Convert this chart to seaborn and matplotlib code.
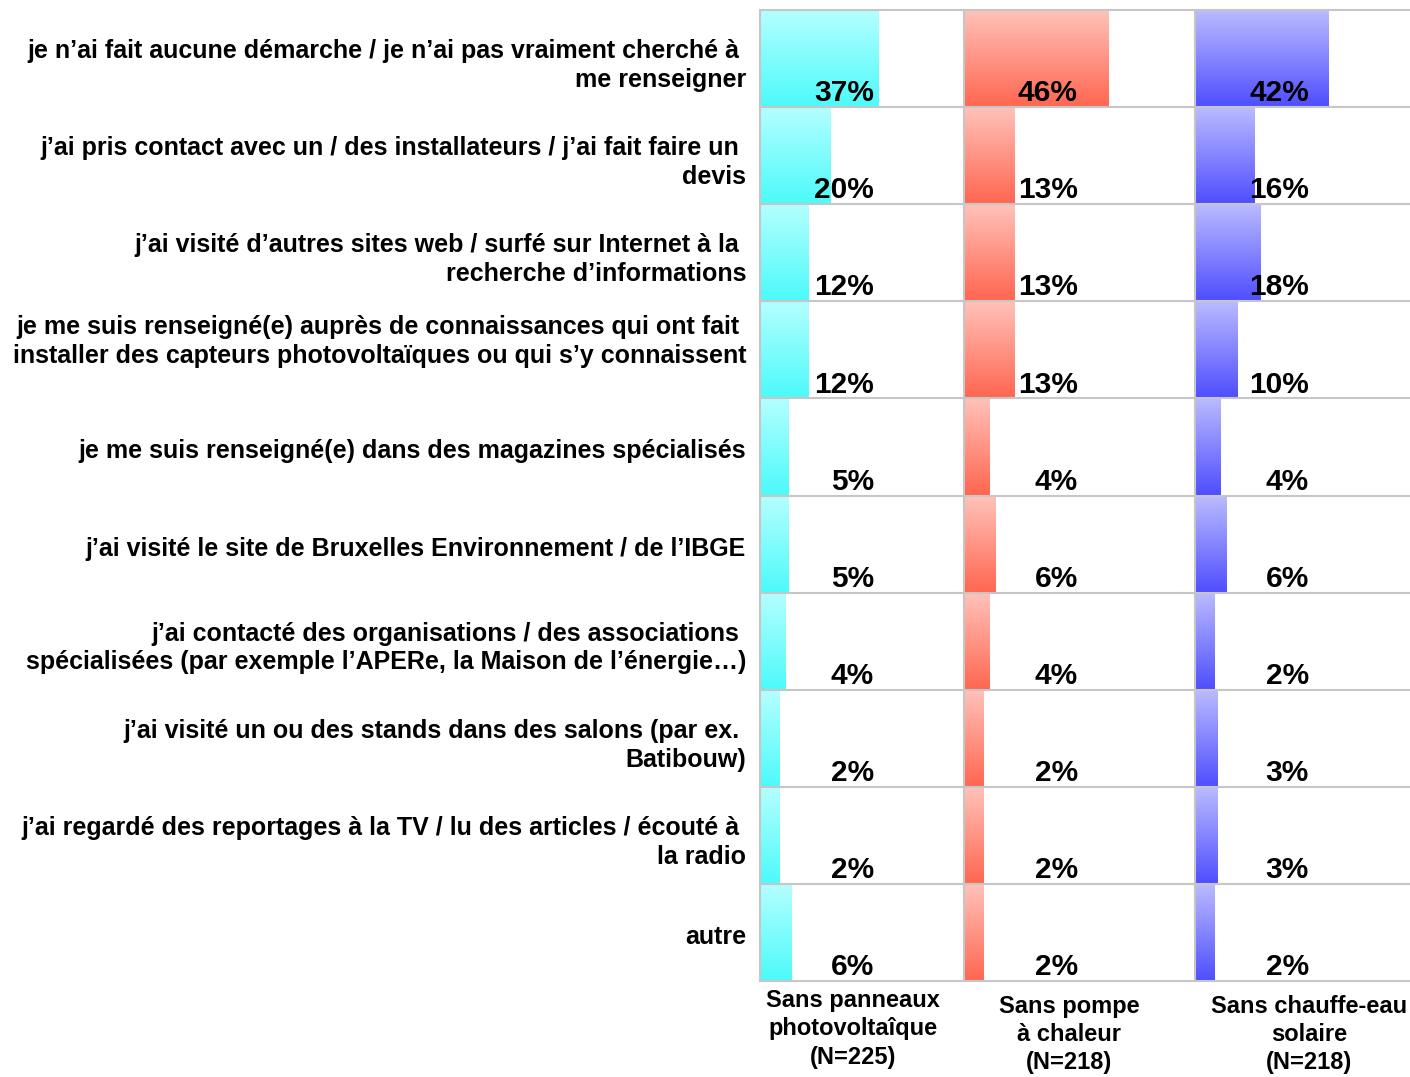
#Importing libraries
import numpy as np
import pandas as pd
import matplotlib
matplotlib.use("Agg")
import matplotlib.pyplot as plt
import matplotlib.transforms as mtransforms
from matplotlib.colors import LinearSegmentedColormap
import seaborn as sns

#Answer categories, top to bottom
categories = [
    "je n’ai fait aucune démarche / je n’ai pas vraiment cherché à \nme renseigner",
    "j’ai pris contact avec un / des installateurs / j’ai fait faire un \ndevis",
    "j’ai visité d’autres sites web / surfé sur Internet à la \nrecherche d’informations",
    "je me suis renseigné(e) auprès de connaissances qui ont fait \ninstaller des capteurs photovoltaïques ou qui s’y connaissent",
    "je me suis renseigné(e) dans des magazines spécialisés",
    "j’ai visité le site de Bruxelles Environnement / de l’IBGE",
    "j’ai contacté des organisations / des associations \nspécialisées (par exemple l’APERe, la Maison de l’énergie…)",
    "j’ai visité un ou des stands dans des salons (par ex. \nBatibouw)",
    "j’ai regardé des reportages à la TV / lu des articles / écouté à \nla radio",
    "autre",
]

#Groups (one panel each)
groups = [
    "Sans panneaux\nphotovoltaîque\n(N=225)",
    "Sans pompe\nà chaleur\n(N=218)",
    "Sans chauffe-eau\nsolaire\n(N=218)",
]

#Percentages per group
pct_panneaux = [37, 20, 12, 12, 5, 5, 4, 2, 2, 6]
pct_pompe = [46, 13, 13, 13, 4, 6, 4, 2, 2, 2]
pct_chauffe_eau = [42, 16, 18, 10, 4, 6, 2, 3, 3, 2]
all_pct = [pct_panneaux, pct_pompe, pct_chauffe_eau]

#Gradient colours (top, bottom) per group
gradients = [("#b6ffff", "#4cfafa"), ("#ffc3bb", "#ff6650"), ("#bcbcff", "#4e4eff")]

#Layout in pixels
W, H = 1410, 1077
panel_px = [(760, 964), (964, 1195), (1195, 1410)]
top_px, bot_px = 10, 981
px_per_pct = 2.83
base = -5
label_x = 35.2
group_label_x = [0.455, 0.455, 0.53]
group_label_y = [-0.008, -0.014, -0.014]
label_shift_px = {3: 15}
grid_col = "#c6c6c6"

sns.set_style("white")
plt.rcParams["font.family"] = ["Liberation Sans", "DejaVu Sans"]
plt.rcParams["text.color"] = "black"
plt.rcParams["ytick.labelcolor"] = "black"

fig = plt.figure(figsize=(W / 100, H / 100), dpi=100)
n = len(categories)
grad = np.linspace(0, 1, 256).reshape(-1, 1)

for k, (vals, (l, r)) in enumerate(zip(all_pct, panel_px)):
    ax = fig.add_axes([l / W, 1 - bot_px / H, (r - l) / W, (bot_px - top_px) / H])
    df = pd.DataFrame({"reponse": categories, "pct": vals})
    sns.barplot(data=df, x="pct", y="reponse", orient="h", width=1, color="white",
                errorbar=None, ax=ax)
    cmap = LinearSegmentedColormap.from_list("g%d" % k, gradients[k])

    #Gradient fill clipped to each bar
    for p, v in zip(ax.patches, vals):
        p.set_x(base)
        p.set_width(v - base)
        p.set_facecolor("none")
        p.set_edgecolor("none")
        y0, h = p.get_y(), p.get_height()
        ax.imshow(grad, cmap=cmap, aspect="auto", extent=(base, v, y0 + h, y0),
                  clip_path=p, clip_on=True, zorder=1, interpolation="bilinear")

    xmax = base + (r - l) / px_per_pct
    ax.set_xlim(base, xmax)
    ax.set_ylim(n - 0.5, -0.5)

    #Row separators
    ax.hlines(np.arange(n + 1) - 0.5, base, xmax, color=grid_col, lw=1.5, zorder=3,
              clip_on=False)

    #Value labels
    for i, v in enumerate(vals):
        ax.text(label_x, i + 0.44, "%d%%" % v, ha="right", va="baseline",
                fontsize=21.5, fontweight="bold", zorder=4)

    #Group label under the panel
    ax.text(group_label_x[k], group_label_y[k], groups[k], transform=ax.transAxes,
            ha="center", va="top", fontsize=17, fontweight="bold", linespacing=1.3)

    for s in ["top", "right", "bottom"]:
        ax.spines[s].set_visible(False)
    ax.spines["left"].set_color(grid_col)
    ax.spines["left"].set_linewidth(1.5)
    ax.set_xticks([])
    ax.set_xlabel("")
    ax.set_ylabel("")

    if k == 0:
        ax.set_yticks(range(n))
        ax.set_yticklabels(categories, fontsize=18, fontweight="bold",
                           ha="right", multialignment="right", linespacing=1.25)
        ax.tick_params(axis="y", which="major", length=0, pad=10)
        ax.set_yticks(np.arange(n + 1) - 0.5, minor=True)
        ax.tick_params(axis="y", which="minor", length=5, color=grid_col, width=1.5)
        for i, lab in enumerate(ax.get_yticklabels()):
            dy = -2 + label_shift_px.get(i, 0)
            offset = mtransforms.ScaledTranslation(0, dy / 100, fig.dpi_scale_trans)
            lab.set_transform(lab.get_transform() + offset)
    else:
        ax.set_yticks([])

fig.savefig("out.png", dpi=100, facecolor="white")
